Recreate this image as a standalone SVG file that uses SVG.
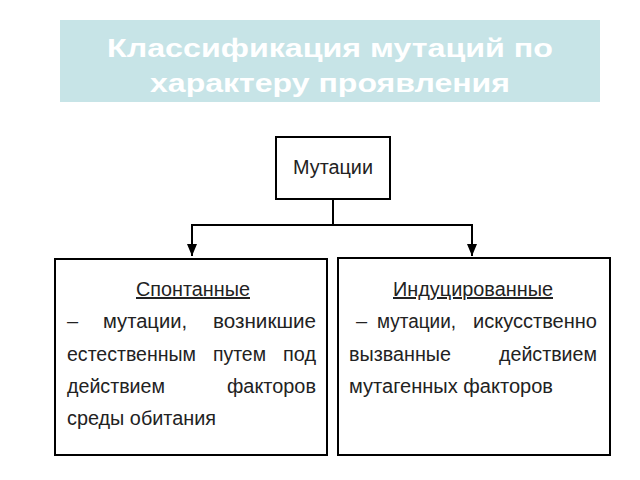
<svg xmlns="http://www.w3.org/2000/svg" width="640" height="480" viewBox="0 0 640 480">
<style>
.t{font-family:"Liberation Sans",Arial,sans-serif;font-size:20px;fill:#222}
.b{fill:#fff;stroke:#000;stroke-width:2}
.c{stroke:#000;stroke-width:2;fill:none}
.h{font-family:"Liberation Sans",Arial,sans-serif;font-weight:bold;font-size:26px;fill:#fff}
</style>
<rect width="640" height="480" fill="#fff"/>
<g id="title">
<rect x="60" y="20" width="540" height="82" fill="#c7e4e7"/>
<text class="h" x="107" y="57" textLength="446" lengthAdjust="spacingAndGlyphs">Классификация мутаций по</text>
<text class="h" x="150" y="92" textLength="360" lengthAdjust="spacingAndGlyphs">характеру проявления</text>
</g>
<g id="connectors">
<path class="c" d="M333,199V225" stroke-width="1"/>
<path class="c" d="M192,256V225H472V256"/>
<path d="M187,244L197,244L192,256z M467,244L477,244L472,256z"/>
</g>
<g id="root">
<rect class="b" x="276" y="137" width="114" height="62"/>
<text class="t" x="293" y="174" textLength="80" lengthAdjust="spacingAndGlyphs">Мутации</text>
</g>
<g id="spont">
<rect class="b" x="55" y="259" width="272" height="196"/>
<text class="t" x="136" y="296" textLength="114" lengthAdjust="spacingAndGlyphs" text-decoration="underline">Спонтанные</text>
<text class="t" x="67" y="328">–</text>
<text class="t" x="103" y="328" textLength="84" lengthAdjust="spacingAndGlyphs">мутации,</text>
<text class="t" x="213" y="328" textLength="103" lengthAdjust="spacingAndGlyphs">возникшие</text>
<text class="t" x="67" y="361" textLength="129" lengthAdjust="spacingAndGlyphs">естественным</text>
<text class="t" x="213" y="361" textLength="53" lengthAdjust="spacingAndGlyphs">путем</text>
<text class="t" x="283" y="361" textLength="33" lengthAdjust="spacingAndGlyphs">под</text>
<text class="t" x="67" y="393" textLength="98" lengthAdjust="spacingAndGlyphs">действием</text>
<text class="t" x="227" y="393" textLength="89" lengthAdjust="spacingAndGlyphs">факторов</text>
<text class="t" x="67" y="425" textLength="149" lengthAdjust="spacingAndGlyphs">среды обитания</text>
</g>
<g id="induc">
<rect class="b" x="338" y="258" width="272" height="197"/>
<text class="t" x="393" y="296" textLength="160" lengthAdjust="spacingAndGlyphs" text-decoration="underline">Индуцированные</text>
<text class="t" x="356" y="328">–</text>
<text class="t" x="377" y="328" textLength="79" lengthAdjust="spacingAndGlyphs">мутации,</text>
<text class="t" x="473" y="328" textLength="124" lengthAdjust="spacingAndGlyphs">искусственно</text>
<text class="t" x="349" y="361" textLength="102" lengthAdjust="spacingAndGlyphs">вызванные</text>
<text class="t" x="499" y="361" textLength="98" lengthAdjust="spacingAndGlyphs">действием</text>
<text class="t" x="349" y="393" textLength="204" lengthAdjust="spacingAndGlyphs">мутагенных факторов</text>
</g>
</svg>
